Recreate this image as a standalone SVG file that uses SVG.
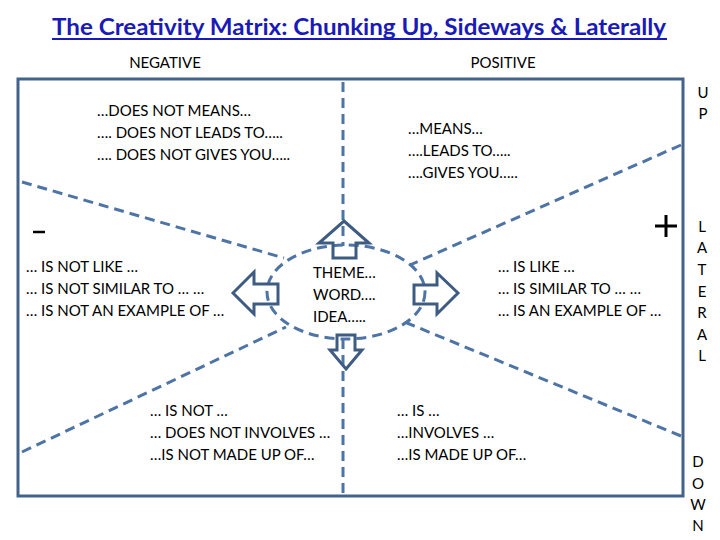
<svg xmlns="http://www.w3.org/2000/svg" width="720" height="540" viewBox="0 0 720 540">
<style>
.t{font-family:Lato,"Liberation Sans",sans-serif;font-size:15px;fill:#000}
.s{font-family:Lato,"Liberation Sans",sans-serif;font-size:15px;fill:#000;text-anchor:middle}
.d{fill:none;stroke:#4e74a6;stroke-width:3;stroke-dasharray:10 6}
.a{fill:none;stroke:#3e5c82;stroke-width:3;stroke-linejoin:miter}
</style>
<rect width="720" height="540" fill="#fff"/>
<text x="359" y="35" text-anchor="middle" font-family="Lato,'Liberation Sans',sans-serif" font-size="22" font-weight="bold" fill="#1a1ab8" textLength="614" lengthAdjust="spacingAndGlyphs">The Creativity Matrix: Chunking Up, Sideways &amp; Laterally</text>
<line x1="52" y1="39" x2="667" y2="39" stroke="#1a1ab8" stroke-width="2"/>
<text class="s" x="165" y="68">NEGATIVE</text>
<text class="s" x="503" y="68">POSITIVE</text>
<rect id="frame" x="18" y="79" width="665" height="417" fill="none" stroke="#43638b" stroke-width="3"/>
<g id="connectors">
<line class="d" x1="343" y1="82" x2="343" y2="246"/>
<line class="d" x1="343" y1="339" x2="343" y2="493"/>
<line class="d" x1="22" y1="182" x2="284" y2="258"/>
<line class="d" x1="681" y1="145" x2="410" y2="265"/>
<line class="d" x1="681" y1="436" x2="407" y2="323"/>
<line class="d" x1="22" y1="452" x2="286" y2="327"/>
</g>
<g id="center">
<ellipse class="d" cx="346" cy="292" rx="79" ry="47" fill="#fff"/>
<text class="t" x="313" y="278">THEME…</text>
<text class="t" x="313" y="300">WORD….</text>
<text class="t" x="313" y="322">IDEA…..</text>
</g>
<g id="arrow-up"><polygon class="a" points="344,221 369,243 356,243 356,258 333,258 333,243 319,243"/></g>
<g id="arrow-left"><polygon class="a" points="233,293 254,272 254,284 278,284 278,304 254,304 254,314"/></g>
<g id="arrow-right"><polygon class="a" points="458,293 437,273 437,285 414,285 414,304 437,304 437,314"/></g>
<g id="arrow-down"><polygon class="a" points="346,369 362,350 355,350 355,335 337,335 337,350 330,350"/></g>
<g id="up-neg">
<text class="t" x="97" y="116">…DOES NOT MEANS…</text>
<text class="t" x="97" y="138">…. DOES NOT LEADS TO…..</text>
<text class="t" x="97" y="160">…. DOES NOT GIVES YOU…..</text>
</g>
<g id="up-pos">
<text class="t" x="408" y="134">…MEANS…</text>
<text class="t" x="408" y="156">….LEADS TO…..</text>
<text class="t" x="408" y="178">….GIVES YOU…..</text>
</g>
<g id="side-neg">
<text class="t" x="26" y="272">… IS NOT LIKE …</text>
<text class="t" x="26" y="294">… IS NOT SIMILAR TO … …</text>
<text class="t" x="26" y="316">… IS NOT AN EXAMPLE OF …</text>
</g>
<g id="side-pos">
<text class="t" x="498" y="272">… IS LIKE …</text>
<text class="t" x="498" y="294">… IS SIMILAR TO … …</text>
<text class="t" x="498" y="316">… IS AN EXAMPLE OF …</text>
</g>
<g id="down-neg">
<text class="t" x="150" y="416">… IS NOT …</text>
<text class="t" x="150" y="438">… DOES NOT INVOLVES …</text>
<text class="t" x="150" y="460">…IS NOT MADE UP OF…</text>
</g>
<g id="down-pos">
<text class="t" x="397" y="416">… IS …</text>
<text class="t" x="397" y="438">…INVOLVES …</text>
<text class="t" x="397" y="460">…IS MADE UP OF…</text>
</g>
<g id="signs">
<line x1="33" y1="232" x2="45" y2="232" stroke="#000" stroke-width="2.5"/>
<line x1="655" y1="226" x2="677" y2="226" stroke="#000" stroke-width="3"/>
<line x1="666" y1="215" x2="666" y2="237" stroke="#000" stroke-width="3"/>
</g>
<g id="axis-labels">
<text class="s" x="703" y="98">U</text>
<text class="s" x="703" y="119">P</text>
<text class="s" x="702" y="232">L</text>
<text class="s" x="702" y="253">A</text>
<text class="s" x="702" y="275">T</text>
<text class="s" x="702" y="297">E</text>
<text class="s" x="702" y="318">R</text>
<text class="s" x="702" y="340">A</text>
<text class="s" x="702" y="361">L</text>
<text class="s" x="698" y="467">D</text>
<text class="s" x="698" y="489">O</text>
<text class="s" x="698" y="510">W</text>
<text class="s" x="698" y="531">N</text>
</g>
</svg>
